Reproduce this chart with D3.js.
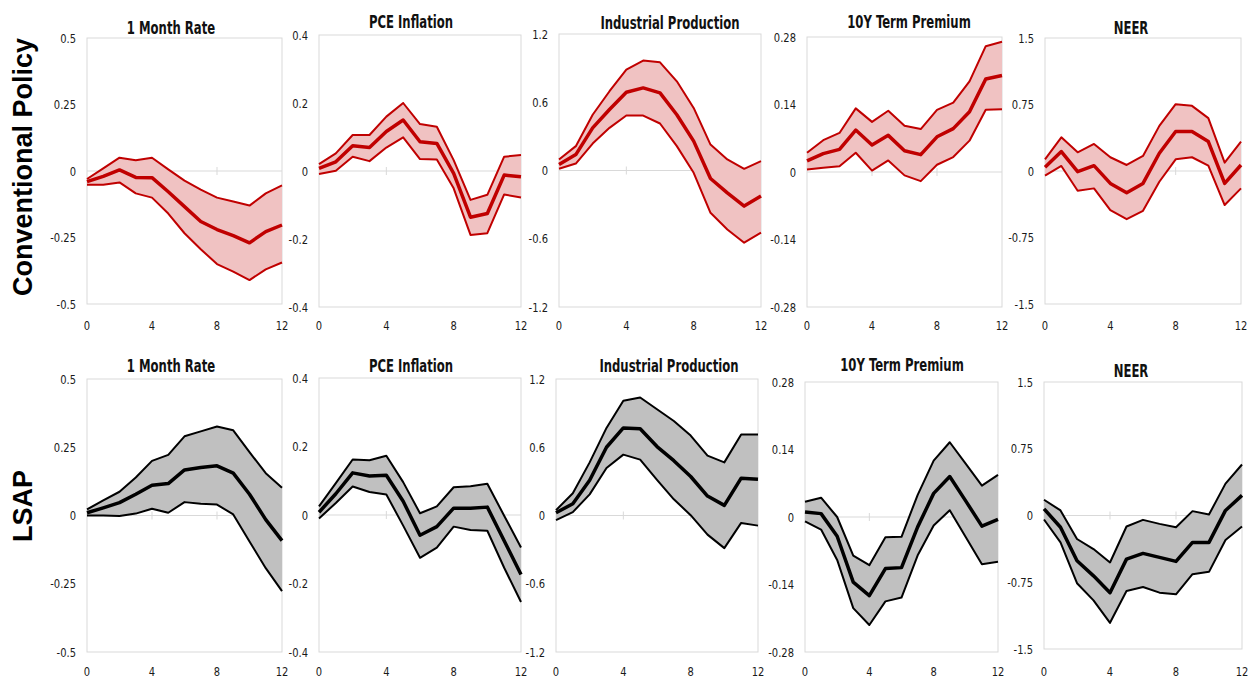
<!DOCTYPE html>
<html>
<head>
<meta charset="utf-8">
<script src="https://cdn.jsdelivr.net/npm/d3@7"></script>
<style>
  body { margin: 0; background: #fff; }
  svg { display: block; }
  .tick-label { font-family: "Liberation Sans Narrow", "DejaVu Sans Condensed", "Roboto", sans-serif; font-size: 13px; fill: #1a1a1a; }
  .panel-title { font-family: "Liberation Sans Narrow", "DejaVu Sans Condensed", "Roboto", sans-serif; font-size: 18px; font-weight: bold; fill: #111; }
  .row-label { font-family: "Liberation Sans", Arial, sans-serif; font-size: 27px; font-weight: bold; fill: #000; }
</style>
</head>
<body>
<svg width="1248" height="679"></svg>
<script>
const horizons = [0, 1, 2, 3, 4, 5, 6, 7, 8, 9, 10, 11, 12];
const xTicks = [0, 4, 8, 12];

// Conventional policy shock
const conv1mMid = [-0.04, -0.02, 0.004, -0.024, -0.025, -0.078, -0.134, -0.19, -0.22, -0.243, -0.27, -0.228, -0.203];
const conv1mUp  = [-0.03, 0.01, 0.05, 0.04, 0.05, 0.006, -0.036, -0.07, -0.1, -0.115, -0.13, -0.084, -0.054];
const conv1mLo  = [-0.052, -0.052, -0.043, -0.084, -0.1, -0.16, -0.234, -0.294, -0.35, -0.378, -0.41, -0.37, -0.344];

const convPceMid = [0.008, 0.027, 0.074, 0.069, 0.116, 0.15, 0.086, 0.081, -0.007, -0.136, -0.125, -0.012, -0.017];
const convPceUp  = [0.02, 0.052, 0.106, 0.106, 0.16, 0.2, 0.138, 0.13, 0.032, -0.085, -0.07, 0.042, 0.047];
const convPceLo  = [-0.009, 0.001, 0.042, 0.029, 0.069, 0.099, 0.035, 0.034, -0.051, -0.188, -0.183, -0.069, -0.078];

const convIpMid = [0.053, 0.14, 0.375, 0.536, 0.688, 0.726, 0.682, 0.49, 0.258, -0.07, -0.196, -0.313, -0.225];
const convIpUp  = [0.097, 0.214, 0.49, 0.697, 0.887, 0.966, 0.951, 0.784, 0.55, 0.228, 0.097, 0.015, 0.082];
const convIpLo  = [0.015, 0.061, 0.237, 0.375, 0.483, 0.483, 0.413, 0.214, -0.02, -0.372, -0.518, -0.635, -0.547];

const convTpMid = [0.023, 0.038, 0.047, 0.087, 0.056, 0.076, 0.044, 0.036, 0.073, 0.09, 0.125, 0.193, 0.2];
const convTpUp  = [0.04, 0.066, 0.081, 0.132, 0.104, 0.127, 0.096, 0.089, 0.129, 0.144, 0.188, 0.261, 0.27];
const convTpLo  = [0.005, 0.009, 0.012, 0.04, 0.003, 0.024, -0.007, -0.019, 0.015, 0.031, 0.065, 0.129, 0.13];

const convNeerMid = [0.041, 0.219, -0.008, 0.06, -0.14, -0.245, -0.14, 0.2, 0.445, 0.445, 0.332, -0.14, 0.068];
const convNeerUp  = [0.132, 0.38, 0.211, 0.305, 0.155, 0.068, 0.17, 0.509, 0.754, 0.735, 0.596, 0.094, 0.332];
const convNeerLo  = [-0.053, 0.057, -0.222, -0.196, -0.441, -0.543, -0.449, -0.121, 0.132, 0.155, 0.06, -0.384, -0.196];

// LSAP shock
const lsap1mMid = [0.01, 0.028, 0.047, 0.078, 0.111, 0.117, 0.167, 0.176, 0.182, 0.155, 0.078, -0.015, -0.092];
const lsap1mUp  = [0.022, 0.055, 0.087, 0.139, 0.2, 0.222, 0.29, 0.308, 0.326, 0.312, 0.232, 0.155, 0.102];
const lsap1mLo  = [0, 0, -0.002, 0.007, 0.025, 0.01, 0.049, 0.043, 0.04, 0.004, -0.095, -0.193, -0.277];

const lsapPceMid = [0.008, 0.062, 0.123, 0.114, 0.116, 0.04, -0.059, -0.034, 0.02, 0.02, 0.023, -0.075, -0.174];
const lsapPceUp  = [0.025, 0.093, 0.162, 0.16, 0.173, 0.096, 0.005, 0.025, 0.081, 0.084, 0.091, -0.002, -0.095];
const lsapPceLo  = [-0.01, 0.035, 0.083, 0.067, 0.06, -0.031, -0.125, -0.095, -0.034, -0.044, -0.046, -0.154, -0.254];

const lsapIpMid = [0.024, 0.103, 0.31, 0.6, 0.77, 0.763, 0.606, 0.482, 0.343, 0.171, 0.089, 0.328, 0.319];
const lsapIpUp  = [0.047, 0.195, 0.467, 0.77, 1.008, 1.037, 0.934, 0.831, 0.703, 0.526, 0.467, 0.712, 0.712];
const lsapIpLo  = [-0.041, 0.03, 0.186, 0.417, 0.535, 0.491, 0.313, 0.142, 0.003, -0.168, -0.287, -0.065, -0.089];

const lsapTpMid = [0.0105, 0.007, -0.04, -0.135, -0.163, -0.107, -0.105, -0.021, 0.049, 0.084, 0.033, -0.019, -0.005];
const lsapTpUp  = [0.0315, 0.04, 0, -0.08, -0.1, -0.042, -0.041, 0.0455, 0.117, 0.155, 0.11, 0.065, 0.0875];
const lsapTpLo  = [-0.009, -0.026, -0.089, -0.189, -0.224, -0.175, -0.167, -0.08, -0.0175, 0.014, -0.042, -0.098, -0.093];

const lsapNeerMid = [0.075, -0.132, -0.509, -0.678, -0.867, -0.49, -0.426, -0.471, -0.516, -0.302, -0.302, 0.057, 0.226];
const lsapNeerUp  = [0.177, 0.057, -0.264, -0.377, -0.528, -0.124, -0.049, -0.094, -0.132, 0.049, 0.011, 0.358, 0.573];
const lsapNeerLo  = [-0.045, -0.302, -0.761, -0.954, -1.206, -0.848, -0.803, -0.867, -0.886, -0.66, -0.633, -0.275, -0.124];

const titles = ['1 Month Rate', 'PCE Inflation', 'Industrial Production', '10Y Term Premium', 'NEER'];
const yTicks1m = [-0.5, -0.25, 0, 0.25, 0.5];
const yTicksPce = [-0.4, -0.2, 0, 0.2, 0.4];
const yTicksIp = [-1.2, -0.6, 0, 0.6, 1.2];
const yTicksTp = [-0.28, -0.14, 0, 0.14, 0.28];
const yTicksNeer = [-1.5, -0.75, 0, 0.75, 1.5];
const rowLabels = ['Conventional Policy', 'LSAP'];

const svg = d3.select('svg');

// plot boxes and title positions (pixels)
const boxes = [
	[{l: 87, r: 282, t: 38, b: 304}, {l: 319, r: 521, t: 35, b: 307}, {l: 559, r: 761, t: 34, b: 307}, {l: 807, r: 1002, t: 37, b: 307}, {l: 1045, r: 1241, t: 38, b: 304}],
	[{l: 87, r: 282, t: 379, b: 652}, {l: 319, r: 521, t: 378, b: 652}, {l: 556, r: 758, t: 379, b: 652}, {l: 805, r: 998, t: 382, b: 652}, {l: 1044, r: 1242, t: 382, b: 649}]
];
const titlePos = [
	[[171, 34], [411, 28], [670, 29], [909, 28], [1131, 34]],
	[[171, 372], [411, 372], [669, 372], [902, 371], [1131, 377]]
];
const xLabelY = [325, 671];

// squeeze text horizontally to mimic a narrow font
const squeeze = (sel, k) => sel.each(function () {
	const w = this.getComputedTextLength();
	d3.select(this).attr('textLength', w * k).attr('lengthAdjust', 'spacingAndGlyphs');
});

const rows = [
	{fill: '#f0c2c2', stroke: '#c00000', series: [
		[conv1mLo, conv1mMid, conv1mUp], [convPceLo, convPceMid, convPceUp], [convIpLo, convIpMid, convIpUp],
		[convTpLo, convTpMid, convTpUp], [convNeerLo, convNeerMid, convNeerUp]]},
	{fill: '#c0c0c0', stroke: '#000000', series: [
		[lsap1mLo, lsap1mMid, lsap1mUp], [lsapPceLo, lsapPceMid, lsapPceUp], [lsapIpLo, lsapIpMid, lsapIpUp],
		[lsapTpLo, lsapTpMid, lsapTpUp], [lsapNeerLo, lsapNeerMid, lsapNeerUp]]}
];
const yTickSets = [yTicks1m, yTicksPce, yTicksIp, yTicksTp, yTicksNeer];

rows.forEach((row, ri) => {
	row.series.forEach((s, ci) => {
		const box = boxes[ri][ci];
		const ticks = yTickSets[ci];
		const x = d3.scaleLinear().domain([0, 12]).range([box.l, box.r]);
		const y = d3.scaleLinear().domain([d3.min(ticks), d3.max(ticks)]).range([box.b, box.t]);
		const g = svg.append('g');

		g.append('rect')
			.attr('x', box.l).attr('y', box.t)
			.attr('width', box.r - box.l).attr('height', box.b - box.t)
			.attr('fill', 'none').attr('stroke', '#d9d9d9').attr('stroke-width', 1);

		// zero axis with crossing tick marks
		g.append('line')
			.attr('x1', x(0)).attr('x2', x(12)).attr('y1', y(0)).attr('y2', y(0))
			.attr('stroke', '#d9d9d9').attr('stroke-width', 1);
		g.selectAll('.zt').data(xTicks.slice(1, -1)).enter().append('line')
			.attr('x1', d => x(d)).attr('x2', d => x(d))
			.attr('y1', y(0) - 4).attr('y2', y(0) + 4)
			.attr('stroke', '#d9d9d9');

		const [lo, mid, up] = s;
		const area = d3.area()
			.x((d, i) => x(horizons[i]))
			.y0((d, i) => y(lo[i]))
			.y1((d, i) => y(up[i]));
		g.append('path').datum(horizons).attr('d', area).attr('fill', row.fill);

		const line = d3.line().x((d, i) => x(horizons[i])).y(d => y(d));
		[lo, up].forEach(band => {
			g.append('path').datum(band).attr('d', line)
				.attr('fill', 'none').attr('stroke', row.stroke).attr('stroke-width', 2)
				.attr('stroke-linejoin', 'round');
		});
		g.append('path').datum(mid).attr('d', line)
			.attr('fill', 'none').attr('stroke', row.stroke).attr('stroke-width', 3.5)
			.attr('stroke-linejoin', 'round');

		g.selectAll('.yl').data(ticks).enter().append('text')
			.attr('class', 'tick-label')
			.attr('x', box.l - 11).attr('y', d => y(d))
			.attr('dy', '0.35em').attr('text-anchor', 'end')
			.text(d => String(d))
			.call(squeeze, 0.85);

		g.selectAll('.xl').data(xTicks).enter().append('text')
			.attr('class', 'tick-label')
			.attr('x', d => x(d)).attr('y', xLabelY[ri])
			.attr('dy', '0.35em').attr('text-anchor', 'middle')
			.text(d => d)
			.call(squeeze, 0.85);

		g.append('text').attr('class', 'panel-title')
			.attr('x', titlePos[ri][ci][0]).attr('y', titlePos[ri][ci][1])
			.attr('text-anchor', 'middle')
			.text(titles[ci])
			.call(squeeze, 0.72);
	});
});

const rowCenters = [167, 506];
rowLabels.forEach((label, i) => {
	svg.append('text').attr('class', 'row-label')
		.attr('transform', `translate(32,${rowCenters[i]}) rotate(-90)`)
		.attr('text-anchor', 'middle')
		.text(label);
});
</script>
</body>
</html>
